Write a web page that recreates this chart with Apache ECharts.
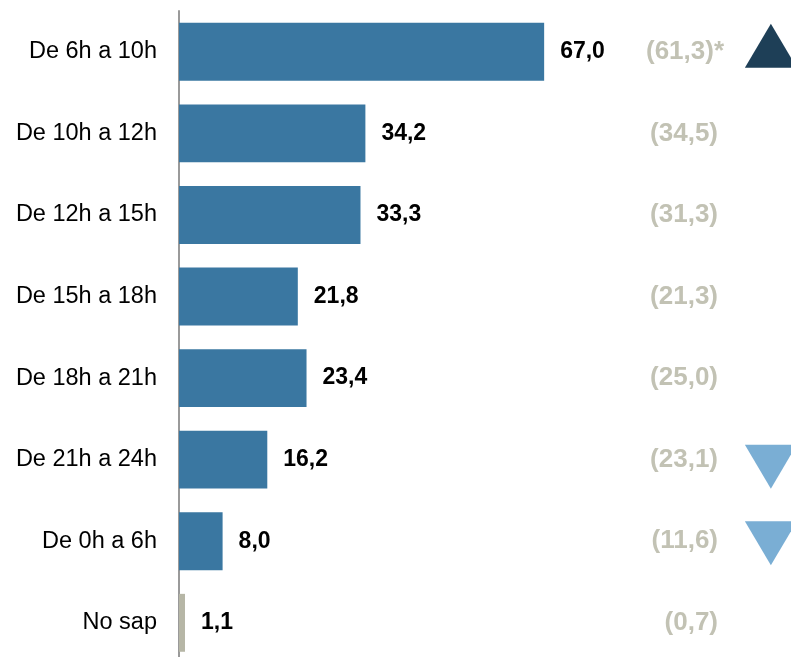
<!DOCTYPE html>
<html>
<head>
<meta charset="utf-8">
<script src="https://cdn.jsdelivr.net/npm/echarts@6/dist/echarts.min.js"></script>
<style>html,body{margin:0;padding:0;background:#fff;}#c{width:791px;height:657px;}</style>
</head>
<body>
<div id="c"></div>
<script>
var categories = ['De 6h a 10h','De 10h a 12h','De 12h a 15h','De 15h a 18h','De 18h a 21h','De 21h a 24h','De 0h a 6h','No sap'];
var values = [67.0, 34.2, 33.3, 21.8, 23.4, 16.2, 8.0, 1.1];
var prevValues = [61.3, 34.5, 31.3, 21.3, 25.0, 23.1, 11.6, 0.7];
var prevFlags = ['*', '', '', '', '', '', '', ''];
var trends = ['up', '', '', '', '', 'down', 'down', ''];

var PREV_X = 98.9;
var TREND_X = 108.6;
var trendShift = [-6, 0, 0, 0, 0, 7, 2, 0];
function fmt(v){ return v.toFixed(1).replace('.', ','); }

var chart = echarts.init(document.getElementById('c'));
var barData = values.map(function(v, i){
  return { value: v, itemStyle: { color: categories[i] === 'No sap' ? '#B6B6A6' : '#3A77A1' } };
});
var prevData = prevValues.map(function(v, i){
  return { value: [PREV_X, i], name: '(' + fmt(v) + ')' + prevFlags[i],
    label: { offset: [prevFlags[i] ? 6 : 0, 0] } };
});
var trendData = [];
trends.forEach(function(t, i){
  if (!t) return;
  trendData.push({
    value: [TREND_X, i],
    symbolRotate: t === 'up' ? 0 : 180,
    symbolOffset: [0, trendShift[i]],
    itemStyle: { color: t === 'up' ? '#1E3F57' : '#7AAED4', opacity: 1 }
  });
});

chart.setOption({
  animation: false,
  grid: { left: 179, width: 599.5, top: 11, height: 652.6, containLabel: false, outerBoundsMode: 'none' },
  xAxis: { type: 'value', min: 0, max: 110, show: false },
  yAxis: {
    type: 'category', data: categories, inverse: true,
    axisLine: { show: true, lineStyle: { color: '#9A9A9A', width: 2 } },
    axisTick: { show: false },
    axisLabel: { fontFamily: 'Liberation Sans, Arial', fontSize: 23.5, color: '#000', margin: 22 }
  },
  series: [
    {
      type: 'bar', data: barData, barWidth: '71%',
      label: { show: true, position: 'right', distance: 16, fontFamily: 'Liberation Sans, Arial',
        fontSize: 23, fontWeight: 'bold', color: '#000', formatter: function(p){ return fmt(p.value); } }
    },
    {
      type: 'scatter', data: prevData, symbolSize: 0, clip: false, silent: true,
      label: { show: true, position: 'left', distance: 0, fontFamily: 'Liberation Sans, Arial',
        fontSize: 26, fontWeight: 'bold', color: '#B3B3A1', formatter: function(p){ return p.name; } }
    },
    {
      type: 'scatter', data: trendData, symbol: 'triangle', symbolSize: [52, 44], clip: false, silent: true,
      itemStyle: { opacity: 1 }
    }
  ]
});
</script>
</body>
</html>
